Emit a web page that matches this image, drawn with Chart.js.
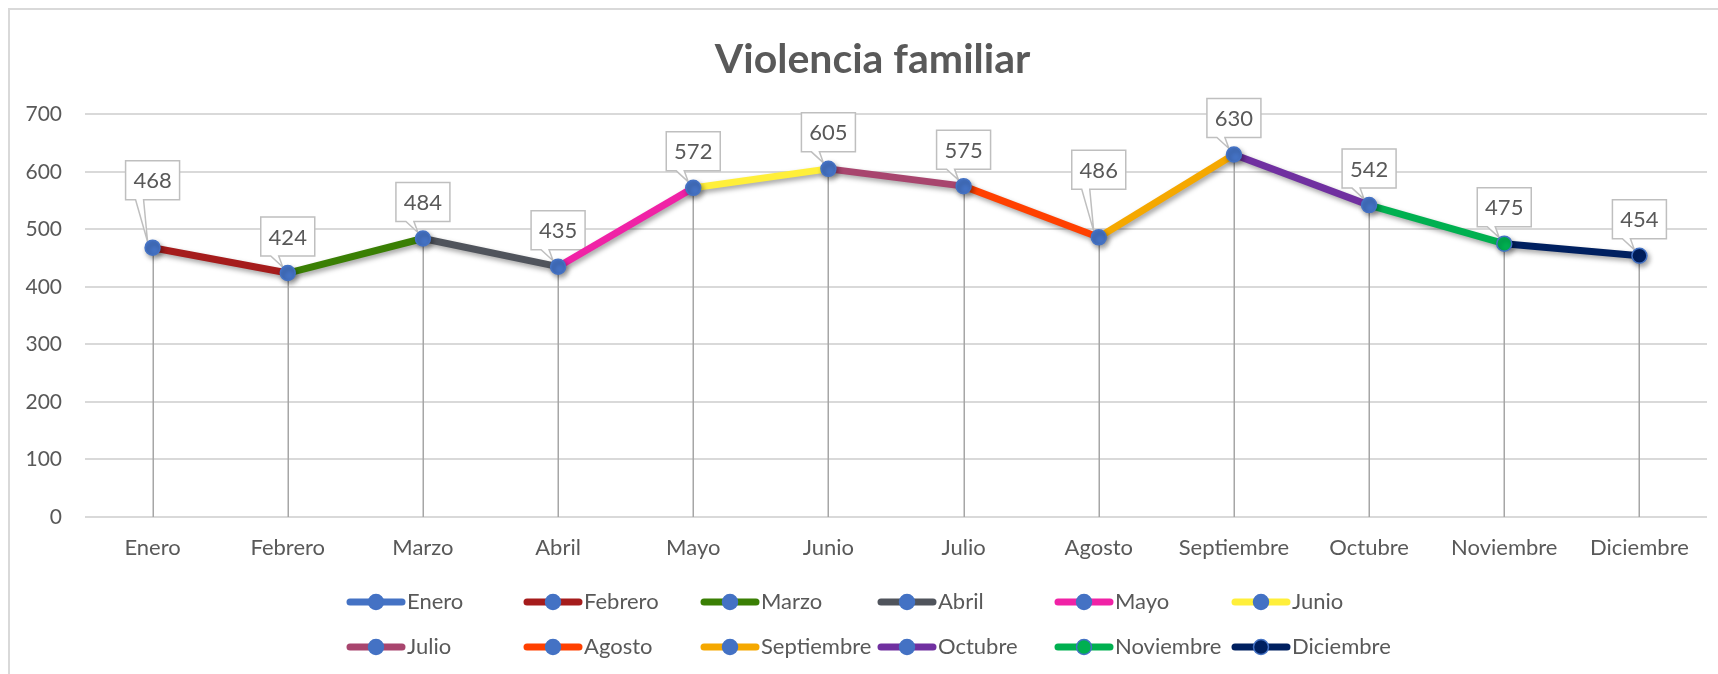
<!DOCTYPE html>
<html>
<head>
<meta charset="utf-8">
<script src="https://cdn.jsdelivr.net/npm/chart.js@4.4.0/dist/chart.umd.min.js"></script>
<style>
html,body{margin:0;padding:0;background:#ffffff;}
canvas{display:block;}
</style>
</head>
<body>
<canvas id="chart" width="1718" height="674"></canvas>
<script>
// ---- data ----
const titleText = 'Violencia familiar';
const months = ['Enero','Febrero','Marzo','Abril','Mayo','Junio','Julio','Agosto','Septiembre','Octubre','Noviembre','Diciembre'];
const values = [468, 424, 484, 435, 572, 605, 575, 486, 630, 542, 475, 454];
const monthColors = ['#4472C4','#A51C1C','#3A7F04','#50545C','#F022A6','#FFEF3A','#A8456E','#FF4000','#F5A800','#7030A0','#00B050','#002060'];
const markerFills = ['#4472C4','#4472C4','#4472C4','#4472C4','#4472C4','#4472C4','#4472C4','#4472C4','#4472C4','#4472C4','#00B050','#002060'];
const yMin = 0, yMax = 700, yStep = 100;

// ---- style / placement (not data) ----
const FONT = 'Lato, "Open Sans", "Liberation Sans", sans-serif';
const TEXT = '#595959';
const GRID = '#D9D9D9';
const MARKER_BORDER = '#4472C4';
const labelExtraLift = [31, 0, 0, 0, 0, 0, 0, 31, 0, 0, 0, 0];
const titleShiftX = 19;

const frame = {
  id: 'frame',
  afterLayout(chart) {
    if (chart.titleBlock) {
      chart.titleBlock.left += titleShiftX;
      chart.titleBlock.right += titleShiftX;
    }
  },
  beforeDraw(chart) {
    const ctx = chart.ctx;
    ctx.save();
    ctx.fillStyle = '#ffffff';
    ctx.fillRect(0, 0, chart.width, chart.height);
    ctx.strokeStyle = '#D9D9D9';
    ctx.lineWidth = 2;
    ctx.strokeRect(9, 9, chart.width + 20, chart.height + 20);
    ctx.restore();
  }
};

const dropAndLabels = {
  id: 'dropAndLabels',
  beforeDatasetsDraw(chart) {
    const ctx = chart.ctx;
    const meta = chart.getDatasetMeta(0);
    const y0 = chart.scales.y.getPixelForValue(yMin);
    ctx.save();
    ctx.strokeStyle = '#A6A6A6';
    ctx.lineWidth = 1.5;
    meta.data.forEach(pt => {
      ctx.beginPath();
      ctx.moveTo(Math.round(pt.x) + 0.25, pt.y);
      ctx.lineTo(Math.round(pt.x) + 0.25, y0);
      ctx.stroke();
    });
    // callout labels
    const ds = chart.data.datasets[0];
    meta.data.forEach((pt, i) => {
      const x = pt.x, y = pt.y;
      const w = 54, h = 39, gap = 17 + labelExtraLift[i];
      const bx = x - w / 2, by = y - gap - h;
      ctx.beginPath();
      ctx.moveTo(bx, by);
      ctx.lineTo(bx + w, by);
      ctx.lineTo(bx + w, by + h);
      ctx.lineTo(x - 9, by + h);
      ctx.lineTo(x - 5, y - 6);
      ctx.lineTo(x - 17, by + h);
      ctx.lineTo(bx, by + h);
      ctx.closePath();
      ctx.fillStyle = '#ffffff';
      ctx.fill();
      ctx.strokeStyle = '#BFBFBF';
      ctx.lineWidth = 1.5;
      ctx.stroke();
      ctx.fillStyle = TEXT;
      ctx.font = '22px ' + FONT;
      ctx.textAlign = 'center';
      ctx.textBaseline = 'middle';
      ctx.fillText(String(ds.data[i]), x, by + h / 2 + 1);
    });
    ctx.restore();
  },
  beforeDatasetDraw(chart) {
    const ctx = chart.ctx;
    ctx.save();
    ctx.shadowColor = 'rgba(0,0,0,0.35)';
    ctx.shadowBlur = 5;
    ctx.shadowOffsetX = 2;
    ctx.shadowOffsetY = 3;
  },
  afterDatasetDraw(chart) {
    chart.ctx.restore();
  }
};

const gridLegend = {
  id: 'gridLegend',
  afterDraw(chart) {
    const ctx = chart.ctx;
    const labels = chart.data.labels;
    const startX = 347, colW = 177, rowY = [602, 647], perRow = 6;
    ctx.save();
    labels.forEach((lab, i) => {
      const col = i % perRow, row = Math.floor(i / perRow);
      const x0 = startX + col * colW, y = rowY[row];
      ctx.strokeStyle = monthColors[i];
      ctx.lineWidth = 7;
      ctx.lineCap = 'round';
      ctx.beginPath();
      ctx.moveTo(x0 + 3, y);
      ctx.lineTo(x0 + 55, y);
      ctx.stroke();
      ctx.beginPath();
      ctx.arc(x0 + 29, y, 7.5, 0, Math.PI * 2);
      ctx.fillStyle = markerFills[i];
      ctx.fill();
      ctx.lineWidth = 1.5;
      ctx.strokeStyle = MARKER_BORDER;
      ctx.stroke();
      ctx.fillStyle = TEXT;
      ctx.font = '22px ' + FONT;
      ctx.textAlign = 'left';
      ctx.textBaseline = 'middle';
      ctx.fillText(lab, x0 + 60, y);
    });
    ctx.restore();
  }
};

new Chart(document.getElementById('chart'), {
  type: 'line',
  data: {
    labels: months,
    datasets: [{
      label: titleText,
      data: values,
      borderWidth: 7,
      borderColor: monthColors[0],
      segment: {
        borderColor: c => monthColors[c.p1DataIndex]
      },
      pointRadius: 7.5,
      pointHoverRadius: 7.5,
      pointBackgroundColor: markerFills,
      pointBorderColor: MARKER_BORDER,
      pointBorderWidth: 1.5,
      tension: 0,
      fill: false
    }]
  },
  options: {
    responsive: false,
    animation: false,
    devicePixelRatio: 1,
    layout: { padding: { left: 0, right: 11, top: 0, bottom: 97 } },
    plugins: {
      legend: { display: false },
      tooltip: { enabled: false },
      title: {
        display: true,
        text: titleText,
        color: TEXT,
        font: { family: FONT, size: 41, weight: 'bold', lineHeight: 1.2 },
        padding: { top: 35, bottom: 30 }
      }
    },
    scales: {
      x: {
        offset: true,
        grid: { display: false, drawTicks: false },
        border: { display: false },
        ticks: { color: TEXT, font: { family: FONT, size: 22 }, padding: 18, maxRotation: 0, autoSkip: false },
        afterFit(s) { s.height = 60; }
      },
      y: {
        min: yMin, max: yMax,
        grid: { color: GRID, lineWidth: 2, drawTicks: false },
        border: { display: false },
        ticks: { stepSize: yStep, color: TEXT, font: { family: FONT, size: 21 }, padding: 23 },
        afterFit(s) { s.width = 85; }
      }
    }
  },
  plugins: [frame, dropAndLabels, gridLegend]
});
</script>
</body>
</html>
